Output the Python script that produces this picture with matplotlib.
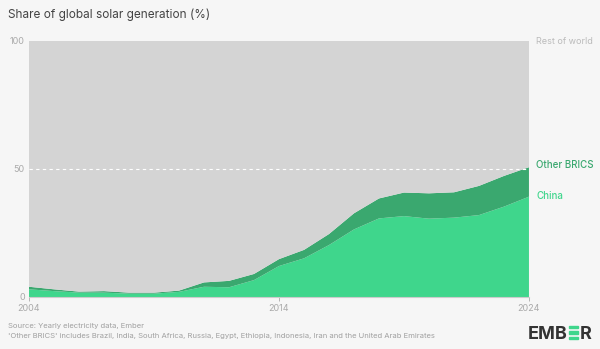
import matplotlib.pyplot as plt
import matplotlib.patches as mpatches
import numpy as np

plt.rcParams['font.family'] = ['Inter', 'DejaVu Sans']

years = list(range(2004, 2025))
china = [3.0, 2.3, 1.7, 1.7, 1.3, 1.3, 2.0, 4.0, 3.8, 6.6, 12.1, 15.1,
         20.3, 26.4, 30.7, 31.6, 30.6, 31.0, 32.0, 35.3, 39.2]
brics_total = [4.0, 3.0, 2.1, 2.3, 1.7, 1.7, 2.5, 5.7, 6.3, 9.0, 14.8, 18.4,
               24.6, 32.7, 38.5, 40.8, 40.5, 40.9, 43.4, 47.3, 50.7]
other_brics = [t - c for t, c in zip(brics_total, china)]
rest = [100 - t for t in brics_total]

BG = '#f6f6f6'
GREY = '#d4d4d4'
DARK_GREEN = '#3aa86f'
GREEN = '#3fd68c'

fig = plt.figure(figsize=(6, 3.49), dpi=100, facecolor=BG)
ax = fig.add_axes([29 / 600, 52 / 349, 500 / 600, 256 / 349])
ax.set_facecolor(BG)

ax.stackplot(years, china, other_brics, rest,
             colors=[GREEN, DARK_GREEN, GREY], linewidth=0)
ax.axhline(50, color='white', lw=0.8, ls=(0, (3, 3)), zorder=3)

ax.set_xlim(2004, 2024)
ax.set_ylim(0, 100)
ax.set_yticks([0, 50, 100])
ax.set_xticks([2004, 2014, 2024])
ax.tick_params(axis='y', length=0, labelsize=6.5, colors='#aaaaaa', pad=3)
ax.tick_params(axis='x', length=3, labelsize=6.5, colors='#aaaaaa', pad=2,
               color='#aaaaaa', width=0.6)
for s in ['top', 'left', 'right']:
    ax.spines[s].set_visible(False)
ax.spines['bottom'].set_color('#cccccc')
ax.spines['bottom'].set_linewidth(0.8)
ax.axvline(2024, color='#e0e0e0', lw=0.8)

# right labels
ax.text(2024.3, 100, 'Rest of world', color='#bbbbbb', fontsize=6.5,
        va='center', ha='left', clip_on=False)
ax.text(2024.3, 51.5, 'Other BRICS', color=DARK_GREEN, fontsize=7,
        va='center', ha='left', fontweight='medium', clip_on=False)
ax.text(2024.3, 39.5, 'China', color=GREEN, fontsize=7,
        va='center', ha='left', fontweight='medium', clip_on=False)

fig.text(8 / 600, 1 - 15 / 349, 'Share of global solar generation (%)',
         fontsize=8.5, color='#444444', va='center', ha='left')
fig.text(8 / 600, 1 - 326 / 349, 'Source: Yearly electricity data, Ember',
         fontsize=5.5, color='#a0a0a0', va='center', ha='left')
fig.text(8 / 600, 1 - 336 / 349,
         "'Other BRICS' includes Brazil, India, South Africa, Russia, Egypt, "
         "Ethiopia, Indonesia, Iran and the United Arab Emirates",
         fontsize=5.5, color='#a0a0a0', va='center', ha='left')

# EMBER logo
fig.text(528 / 600, 1 - 339 / 349, 'EMB', fontsize=13, fontweight='bold',
         color='#333333', va='baseline', ha='left')
fig.text(592 / 600, 1 - 339 / 349, 'R', fontsize=13, fontweight='bold',
         color='#333333', va='baseline', ha='right')
bx, bw, bh = 568.5, 9, 2.4
for yy in [327.2, 332.5, 337.8]:
    fig.patches.append(mpatches.Rectangle((bx / 600, 1 - (yy + bh / 2) / 349),
                                          bw / 600, bh / 349, color=GREEN,
                                          transform=fig.transFigure))

fig.savefig('out.png', dpi=100, facecolor=BG)
